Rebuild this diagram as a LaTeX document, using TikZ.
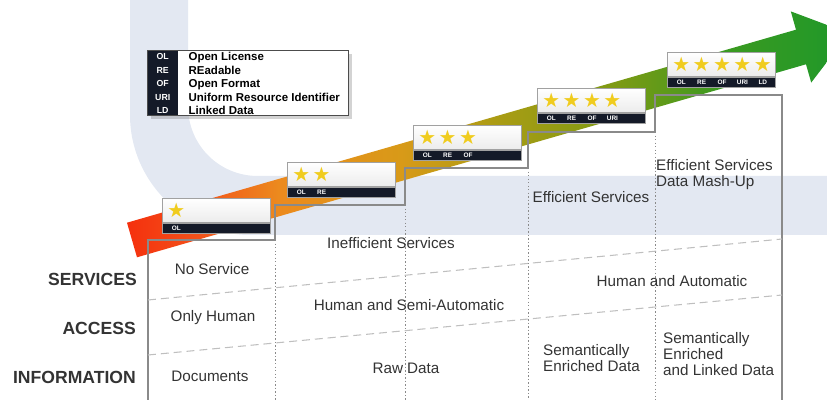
\documentclass[tikz,border=0pt]{standalone}
\usepackage{fontspec}
\setmainfont{Liberation Sans}
\newfontfamily\starfont{DejaVu Sans}
\usetikzlibrary{positioning,shadows}

\definecolor{wmark}{HTML}{E3E8F2}
\definecolor{ink}{HTML}{333333}
\definecolor{rule}{HTML}{8A8A8A}
\definecolor{barblue}{HTML}{141A28}
\definecolor{staryel}{HTML}{F0CC1E}
\definecolor{sh1}{HTML}{F5300E}
\definecolor{sh2}{HTML}{F2521A}
\definecolor{sh3}{HTML}{EC8A1E}
\definecolor{sh4}{HTML}{D89A18}
\definecolor{sh5}{HTML}{A89C14}
\definecolor{sh6}{HTML}{7C9A14}
\definecolor{sh7}{HTML}{3C9A20}
\definecolor{sh8}{HTML}{1E982A}
\pgfdeclarehorizontalshading{stairshade}{100bp}{color(0bp)=(sh1); color(25bp)=(sh1);
  color(30bp)=(sh2); color(35.5bp)=(sh3); color(44bp)=(sh4); color(51bp)=(sh5);
  color(59bp)=(sh6); color(66bp)=(sh7); color(75bp)=(sh8); color(100bp)=(sh8)}

\begin{document}
\begin{tikzpicture}[x=0.03cm,y=-0.03cm,
                    every node/.style={text=ink,font=\fontsize{13}{13.6}\selectfont}]
  \tikzstyle{stairline}=[draw=rule,line width=1.4pt]
  \tikzstyle{colsep}=[draw=rule,line width=0.7pt,dash pattern=on 1.2pt off 1.8pt]
  \tikzstyle{rowsep}=[draw=gray!50,line width=0.9pt,dash pattern=on 6.8pt off 4.2pt]
  \tikzstyle{starbox}=[draw=rule!80,line width=0.6pt,top color=white,bottom color=gray!15,
                       anchor=north west,minimum height=0.72cm,inner xsep=3.2pt,inner ysep=0pt,
                       text width=85.4pt,align=left,font=\starfont\fontsize{17}{17}\selectfont,
                       text=staryel]
  \tikzstyle{starbar}=[draw=rule!80,line width=0.6pt,fill=barblue,minimum height=0.3cm,
                       inner xsep=3.2pt,inner ysep=0pt,text width=85.4pt,align=left,
                       font=\bfseries\fontsize{5.5}{5.5}\selectfont,text=white]
  \tikzstyle{legframe}=[draw=gray!60!black,line width=0.8pt,fill=white,drop shadow={opacity=0.35},
                        minimum width=6.03cm,minimum height=1.95cm,anchor=north west,inner sep=0pt]
  \tikzstyle{legkeys}=[fill=barblue,text=white,align=center,minimum width=0.93cm,
                       minimum height=1.95cm-1.6pt,inner sep=0pt,anchor=north west,
                       font=\bfseries\fontsize{7.5}{11.5}\selectfont]
  \tikzstyle{legnames}=[align=left,inner xsep=8.5pt,inner ysep=0pt,minimum height=1.95cm-1.6pt,
                        font=\bfseries\fontsize{9.8}{11.5}\selectfont,text=black]
  \tikzstyle{rowhead}=[anchor=east,inner sep=0pt,font=\bfseries\fontsize{15}{15}\selectfont]
  \tikzstyle{cell}=[inner sep=0pt]
  \tikzstyle{cellleft}=[anchor=west,inner sep=0pt,align=left]

  \useasboundingbox (0,0) rectangle (827,400);
  \clip (0,0) rectangle (827,400);

  % watermark in the back
  \fill[wmark] (130,0) -- (130,115) .. controls (130,181) and (184,235) .. (250,235)
        -- (827,235) -- (827,176) -- (258,176) .. controls (219,176) and (188,145) .. (188,106)
        -- (188,0) -- cycle;

  % the big arrow
  \shade[shading=stairshade] (127,222.7) -- (796,29.7) -- (790.8,11.4) -- (849,33.2)
        -- (811.2,82.6) -- (806,64.3) -- (137,257.3) -- cycle;

  % stairs and grid
  \draw[stairline] (148,400) -- (148,240) -- (275,240) -- (275,205) -- (405,205) -- (405,168)
        -- (528,168) -- (528,132) -- (655,132) -- (655,95) -- (782,95) -- (782,400);
  \draw[colsep] (275,240) -- (275,400);
  \draw[colsep] (405,205) -- (405,400);
  \draw[colsep] (528,168) -- (528,400);
  \draw[colsep] (655,132) -- (655,400);
  \draw[rowsep] (148,300) -- (782,239);
  \draw[rowsep] (148,355) -- (782,295);

  % star boxes
  \node[starbox] (s1) at (162,198) {\makebox[17.4pt]{★}};
  \node[starbar,below=0pt of s1] (bar1) {\makebox[17.4pt]{OL}};
  \node[starbox] (s2) at (287,162) {\makebox[17.4pt]{★}\makebox[17.4pt]{★}};
  \node[starbar,below=0pt of s2] (bar2) {\makebox[17.4pt]{OL}\makebox[17.4pt]{RE}};
  \node[starbox] (s3) at (413,125) {\makebox[17.4pt]{★}\makebox[17.4pt]{★}\makebox[17.4pt]{★}};
  \node[starbar,below=0pt of s3] (bar3) {\makebox[17.4pt]{OL}\makebox[17.4pt]{RE}\makebox[17.4pt]{OF}};
  \node[starbox] (s4) at (537,88) {\makebox[17.4pt]{★}\makebox[17.4pt]{★}\makebox[17.4pt]{★}\makebox[17.4pt]{★}};
  \node[starbar,below=0pt of s4] (bar4) {\makebox[17.4pt]{OL}\makebox[17.4pt]{RE}\makebox[17.4pt]{OF}\makebox[17.4pt]{URI}};
  \node[starbox] (s5) at (667,52) {\makebox[17.4pt]{★}\makebox[17.4pt]{★}\makebox[17.4pt]{★}\makebox[17.4pt]{★}\makebox[17.4pt]{★}};
  \node[starbar,below=0pt of s5] (bar5) {\makebox[17.4pt]{OL}\makebox[17.4pt]{RE}\makebox[17.4pt]{OF}\makebox[17.4pt]{URI}\makebox[17.4pt]{LD}};

  % legend
  \node[legframe] (legend) at (147,50) {};
  \node[legkeys] (keys) at ([yshift=-1.6pt]legend.north west) {OL\\RE\\OF\\URI\\LD};
  \node[legnames,right=0pt of keys] (names) {Open License\\REadable\\Open Format\\Uniform Resource Identifier\\Linked Data};
  \fill[barblue] (legend.north west) rectangle ([xshift=0.93cm,yshift=-1.6pt]legend.north west);
  \draw[gray!60!black,line width=0.8pt] (legend.south west) rectangle (legend.north east);

  % rows
  \node[rowhead] (services) at (137,279) {SERVICES};
  \node[rowhead] (access) at (136,328) {ACCESS};
  \node[rowhead] (information) at (136,377) {INFORMATION};

  % cells
  \node[cell] (noserv) at (212,269) {No Service};
  \node[cell] (onlyhuman) at (213,318) {Only Human};
  \node[cell] (documents) at (210,376) {Documents};
  \node[cell] (ineff) at (391,243) {Inefficient Services};
  \node[cell] (semiauto) at (409,305) {Human and Semi-Automatic};
  \node[cell] (rawdata) at (406,368) {Raw Data};
  \node[cell] (eff) at (591,197) {Efficient Services};
  \node[cellleft] (mashup) at (656,175) {Efficient Services\\Data Mash-Up};
  \node[cell] (humauto) at (672,281) {Human and Automatic};
  \node[cellleft] (enriched) at (543,358) {Semantically\\Enriched Data};
  \node[cellleft] (linked) at (663,354) {Semantically\\Enriched\\and Linked Data};
\end{tikzpicture}
\end{document}
